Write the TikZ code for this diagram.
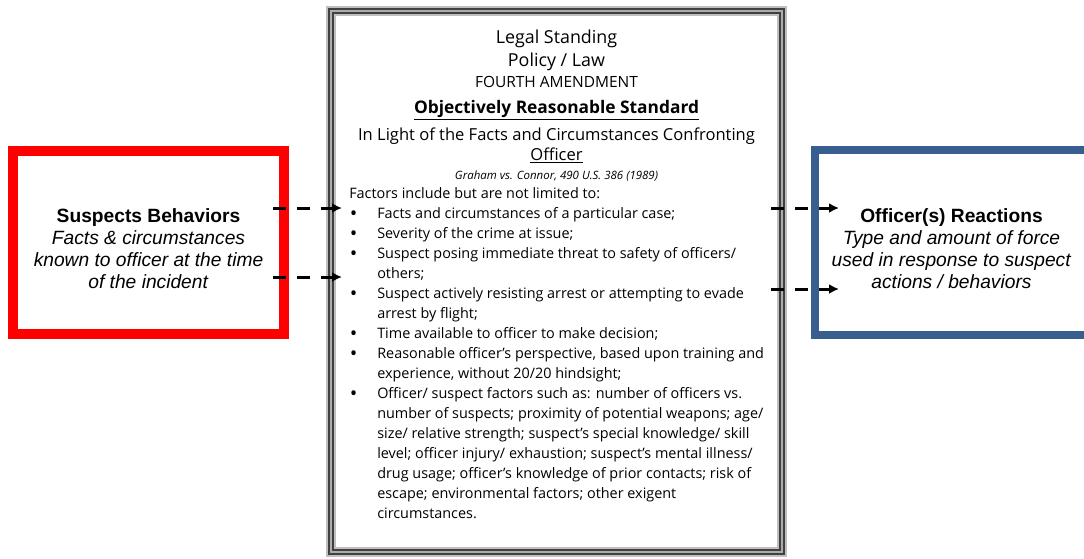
\documentclass[tikz,border=0pt]{standalone}
\usepackage{fontspec}
\setmainfont{Liberation Sans}
\newfontfamily\comicfont{Open Sans}
\usetikzlibrary{positioning, arrows.meta}
\definecolor{frameblue}{RGB}{56,94,143}
\newcommand\itm{\hspace*{0.5pt}\makebox[20.5pt][l]{\raisebox{-1.5pt}[0pt][0pt]{\fontsize{15}{15}\selectfont\textbullet}}}
\newcommand\cnt{\hspace*{21pt}}

\begin{document}
\begin{tikzpicture}[x=0.75pt, y=-0.75pt,
sidebox/.style={rectangle,
  inner sep=0pt
},
sidetext/.style={align=center,
  inner sep=0pt,
  font=\fontsize{14.4}{16.4}\selectfont
},
lawframe/.style={rectangle,
  inner sep=0pt,
  draw=gray!50,
  line width=7.5pt,
  postaction={draw=black!75, double=gray!65, line width=1.3pt, double distance=1.8pt}
},
hdr/.style={font=\comicfont\fontsize{#1}{#1}\selectfont, inner sep=0pt},
body/.style={font=\comicfont\fontsize{10.8}{15}\selectfont, align=left, inner sep=0pt},
flow/.style={->, line width=2.25pt, dash pattern=on 10pt off 8pt},
>={Latex[length=7.5pt, width=7.5pt]}
]
\useasboundingbox (0,0) rectangle (1084,558);
\clip (0,0) rectangle (1084,558);

\node[sidebox, draw=red, line width=7.5pt, minimum width=203.25pt, minimum height=137.25pt] (suspect) at (148.5,242.5) {};
\node[sidetext] (suspecttext) at ([yshift=-4.5pt]suspect.center)
    {\textbf{Suspects Behaviors}\\ \textit{Facts \& circumstances}\\ \textit{known to officer at the time}\\ \textit{of the incident}};
\node[sidebox, draw=frameblue, line width=6pt, minimum width=204.75pt, minimum height=138.75pt] (officer) at (951.5,242.5) {};
\node[sidetext] (officertext) at ([yshift=-4.5pt]officer.center)
    {\textbf{Officer(s) Reactions}\\ \textit{Type and amount of force}\\ \textit{used in response to suspect}\\ \textit{actions / behaviors}};
\node[lawframe, minimum width=338.25pt, minimum height=405.75pt] (law) at (556.5,281.5) {};

\node[hdr=13.4, anchor=base] (legal) at (556.5,43)
    {Legal Standing};
\node[hdr=13.4, below=17.25pt of legal.base, anchor=base] (policy)
    {Policy / Law};
\node[hdr=11.6, below=15.75pt of policy.base, anchor=base] (fourth)
    {FOURTH AMENDMENT};
\node[hdr=13, below=19.5pt of fourth.base, anchor=base] (standard)
    {\textbf{\underline{Objectively Reasonable Standard}}};
\node[hdr=12.4, below=20.25pt of standard.base, anchor=base] (light)
    {In Light of the Facts and Circumstances Confronting};
\node[hdr=12.4, below=15pt of light.base, anchor=base] (officerword)
    {\underline{Officer}};
\node[hdr=8.6, below=14.25pt of officerword.base, anchor=base] (graham)
    {\textit{Graham vs. Connor, 490 U.S. 386 (1989)}};

% base of a multi-line node is its last line
\node[body, anchor=base west] (factors) at (349,518)
    {Factors include but are not limited to:\\
     \itm Facts and circumstances of a particular case;\\
     \itm Severity of the crime at issue;\\
     \itm Suspect posing immediate threat to safety of officers/\\
     \cnt others;\\
     \itm Suspect actively resisting arrest or attempting to evade\\
     \cnt arrest by flight;\\
     \itm Time available to officer to make decision;\\
     \itm Reasonable officer’s perspective, based upon training and\\
     \cnt experience, without 20/20 hindsight;\\
     \itm Officer/ suspect factors such as: number of officers vs.\\
     \cnt number of suspects; proximity of potential weapons; age/\\
     \cnt size/ relative strength; suspect’s special knowledge/ skill\\
     \cnt level; officer injury/ exhaustion; suspect’s mental illness/\\
     \cnt drug usage; officer’s knowledge of prior contacts; risk of\\
     \cnt escape; environmental factors; other exigent\\
     \cnt circumstances.};

\draw[flow] ([xshift=-12pt]suspect.east |- 0,208) -- ([xshift=12pt]law.west |- 0,208);
\draw[flow] ([xshift=-12pt]suspect.east |- 0,277) -- ([xshift=12pt]law.west |- 0,277);
\draw[flow] ([xshift=-12pt]law.east |- 0,208) -- ([xshift=21pt]officer.west |- 0,208);
\draw[flow] ([xshift=-12pt]law.east |- 0,289) -- ([xshift=21pt]officer.west |- 0,289);
\end{tikzpicture}
\end{document}
